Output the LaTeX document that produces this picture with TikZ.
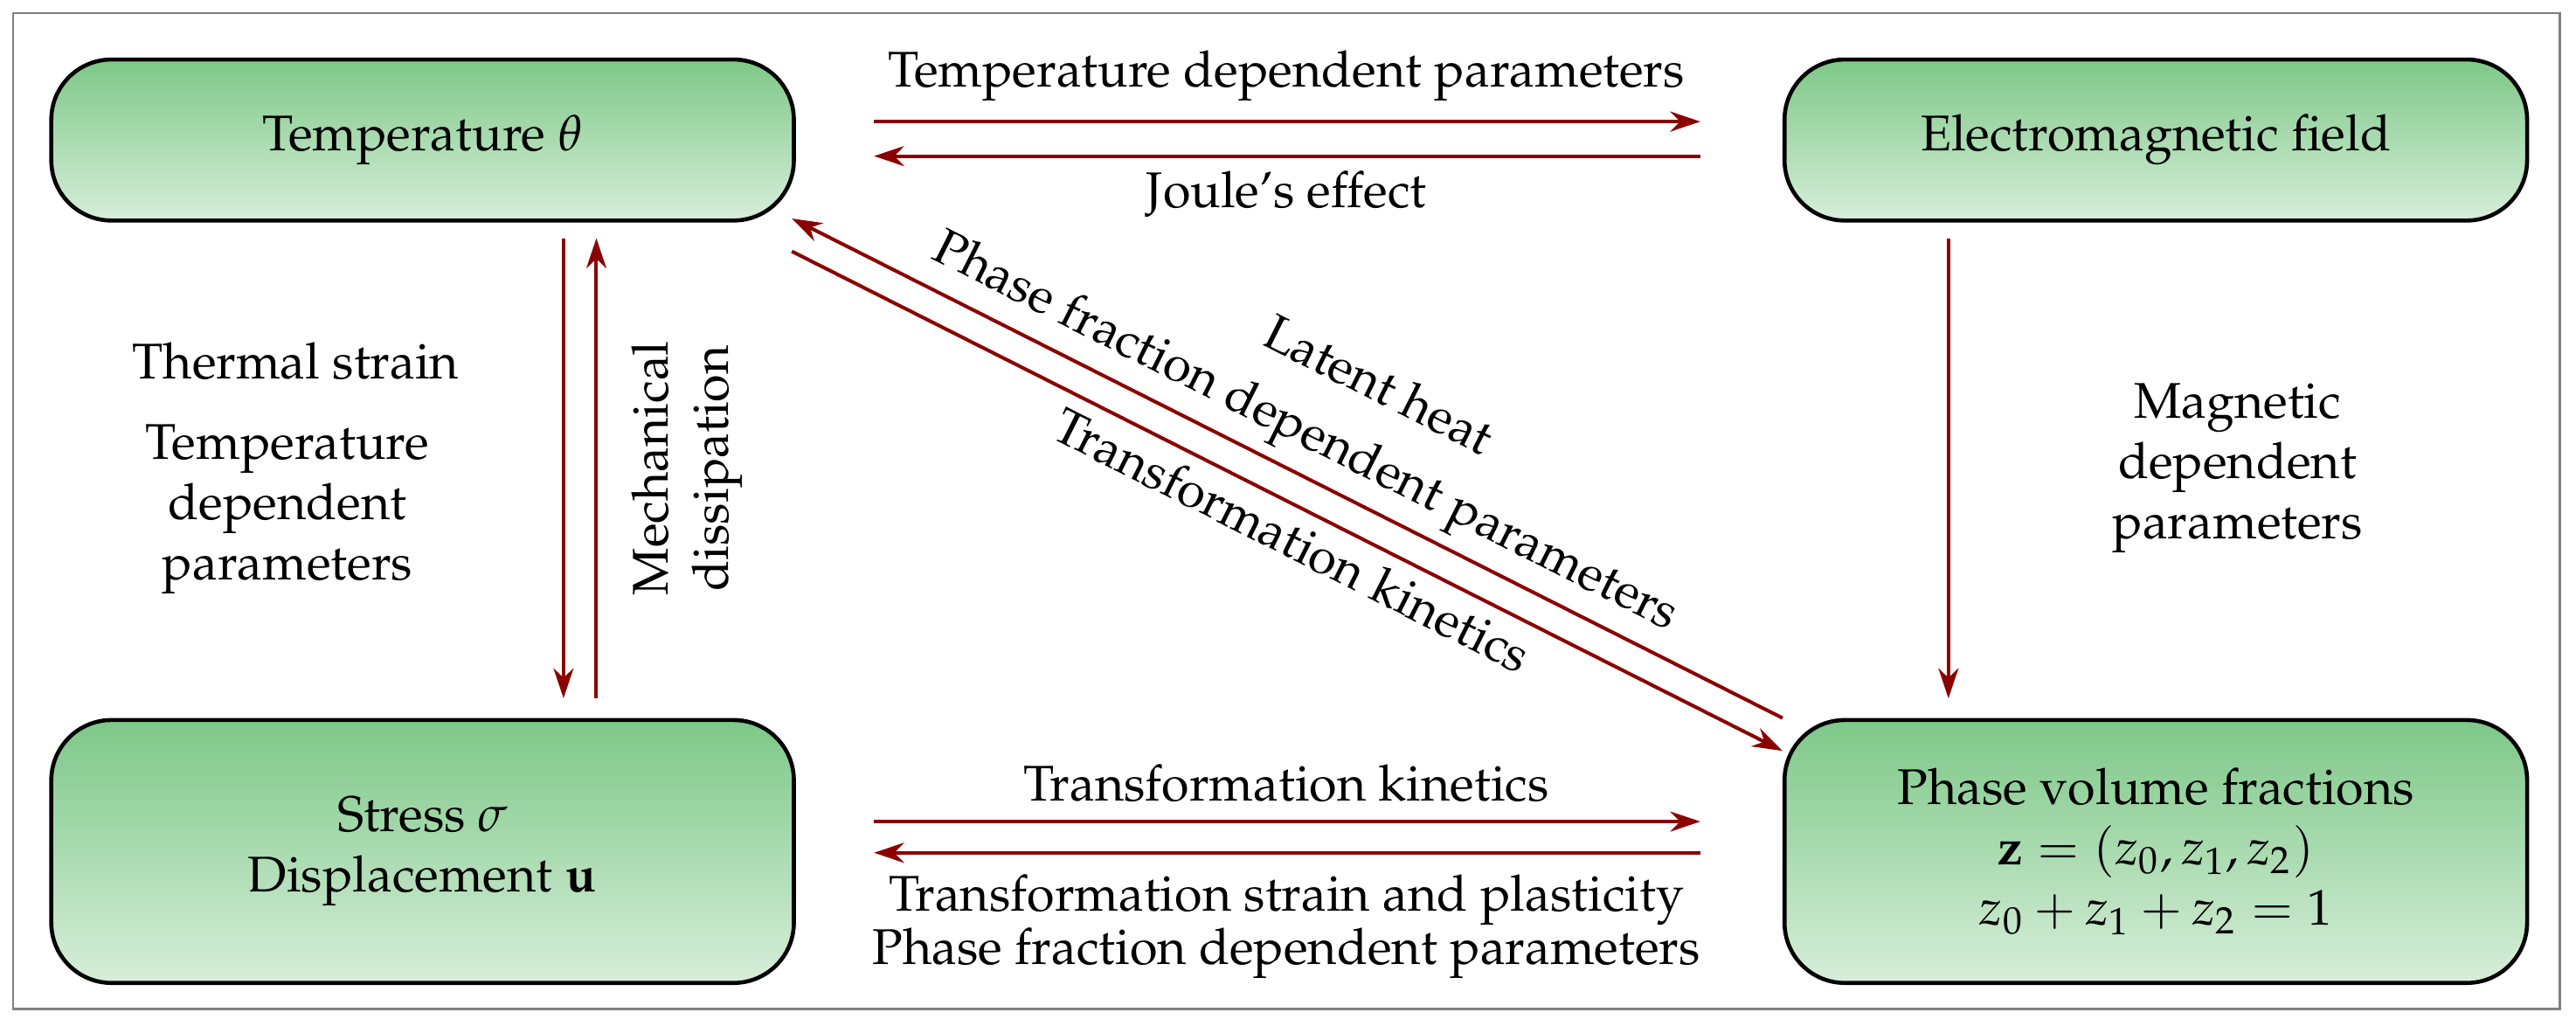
\documentclass[tikz,border=0pt]{standalone}
\usepackage[T1]{fontenc}
\usepackage{mathpazo}
\usetikzlibrary{arrows.meta}
\definecolor{arr}{RGB}{139,0,0}
\definecolor{gtop}{RGB}{125,200,135}
\definecolor{gbot}{RGB}{215,238,218}
\begin{document}
\begin{tikzpicture}[x=0.0115cm,y=-0.0115cm,
  box/.style={draw=black,line width=0.8pt,rounded corners=12pt,top color=gtop,bottom color=gbot,align=center,inner sep=0pt,font=\normalsize},
  ar/.style={draw=arr,line width=0.7pt,-{Stealth[length=6pt,width=4pt]}},
  lab/.style={align=center,font=\normalsize}]
\useasboundingbox (0,0) rectangle (1568,624);
\draw[gray,line width=0.5pt] (8,8) rectangle (1558,614);
\path (30,35) node[box,anchor=north west,minimum width=452*0.0115cm,minimum height=98*0.0115cm] (T) {Temperature $\theta$};
\path (1085,35) node[box,anchor=north west,minimum width=452*0.0115cm,minimum height=98*0.0115cm] (E) {Electromagnetic field};
\path (30,437) node[box,anchor=north west,minimum width=452*0.0115cm,minimum height=160*0.0115cm] (S) {Stress $\sigma$\\ Displacement $\mathbf{u}$};
\path (1085,437) node[box,anchor=north west,minimum width=452*0.0115cm,minimum height=160*0.0115cm] (P) {Phase volume fractions\\ $\mathbf{z}=(z_0,z_1,z_2)$\\ $z_0+z_1+z_2=1$};
\coordinate (a1) at (532,74); \coordinate (a2) at (1035,74);
\coordinate (b1) at (1035,95); \coordinate (b2) at (532,95);
\draw[ar] (a1) -- (a2);
\draw[ar] (b1) -- (b2);
\coordinate (c1) at (343,145); \coordinate (c2) at (343,425);
\coordinate (d1) at (363,425); \coordinate (d2) at (363,145);
\draw[ar] (c1) -- (c2);
\draw[ar] (d1) -- (d2);
\coordinate (e1) at (1186,145); \coordinate (e2) at (1186,425);
\draw[ar] (e1) -- (e2);
\coordinate (f1) at (1085,437); \coordinate (f2) at (482,133);
\coordinate (g1) at (482,153); \coordinate (g2) at (1085,457);
\draw[ar] (f2) -- (f1) [draw=none] ; 
\draw[ar] (f1) -- (f2);
\draw[ar] (g1) -- (g2) node[pos=0.52,sloped,below=-1pt,lab] {Transformation kinetics};
\path (f2) -- (f1) node[pos=0.5,sloped,above=-1pt,lab] {Phase fraction dependent parameters}
      node[pos=0.54,sloped,above=16pt,lab] {Latent heat};
\coordinate (h1) at (532,500); \coordinate (h2) at (1035,500);
\coordinate (i1) at (1035,519); \coordinate (i2) at (532,519);
\draw[ar] (h1) -- (h2);
\draw[ar] (i1) -- (i2);
\node[lab] at (783,46) {Temperature dependent parameters};
\node[lab] at (783,118) {Joule's effect};
\node[lab] at (180,220) {Thermal strain};
\node[lab] at (175,310) {Temperature\\dependent\\parameters};
\node[lab,rotate=90] at (418,285) {Mechanical\\dissipation};
\node[lab] at (1362,285) {Magnetic\\dependent\\parameters};
\node[lab] at (783,477) {Transformation kinetics};
\node[lab] at (783,548) {Transformation strain and plasticity};
\node[lab] at (783,580) {Phase fraction dependent parameters};
\end{tikzpicture}
\end{document}
